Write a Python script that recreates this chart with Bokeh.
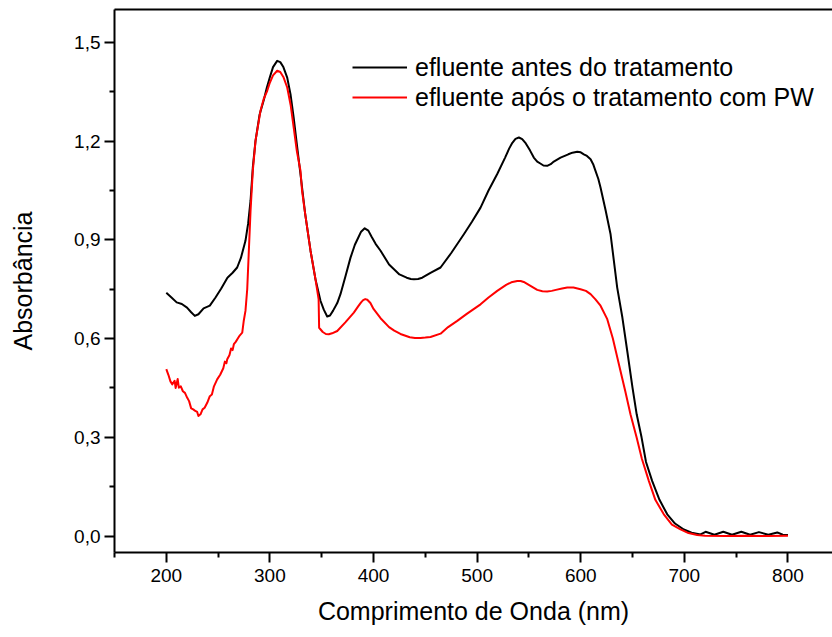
from bokeh.plotting import figure
from bokeh.models import (Range1d, LinearAxis, FixedTicker, CustomJSTickFormatter,
                          Legend, LegendItem)
from bokeh.embed import file_html
from bokeh.resources import INLINE

# ---------------- data ----------------
wl_antes = [200, 205, 210, 215, 220, 224, 227.5, 231, 236, 242, 247.5, 253, 259, 264,
            268.4, 272, 276.4, 279, 281.3, 283.5, 286.1, 290, 294.1, 297, 300, 303,
            307, 310, 313, 316.7, 320, 323, 326, 329.5, 334, 339.2, 344, 348.8, 352,
            355.3, 358, 361, 365, 368.1, 373, 377.8, 382, 385, 388, 391.5, 395, 398,
            402, 406.8, 415, 425, 432, 436, 439, 443, 447, 455, 464.7, 475, 487.2,
            495, 503.3, 511, 519.4, 527, 531, 534, 537, 540.3, 543.5, 547, 551,
            554.7, 558, 561, 564, 567.6, 571, 574, 580.5, 588, 592, 596.6, 600, 603,
            606, 609.5, 612, 614, 617, 619.1, 624, 628.8, 635.2, 640.2, 645, 650,
            654, 658.7, 663, 669, 676, 683.5, 691, 699.5, 707, 715.6, 720.5, 729,
            737.6, 746, 755, 763.5, 772, 781, 789.7, 795, 800]
abs_antes = [0.739, 0.725, 0.710, 0.705, 0.694, 0.680, 0.669, 0.674, 0.692, 0.700,
             0.725, 0.752, 0.785, 0.800, 0.816, 0.845, 0.897, 0.950, 1.019, 1.120,
             1.201, 1.280, 1.325, 1.362, 1.395, 1.425, 1.444, 1.440, 1.425, 1.393,
             1.340, 1.270, 1.190, 1.100, 0.980, 0.867, 0.780, 0.715, 0.688, 0.667,
             0.670, 0.685, 0.708, 0.735, 0.790, 0.846, 0.885, 0.905, 0.925, 0.935,
             0.928, 0.910, 0.888, 0.867, 0.825, 0.795, 0.785, 0.781, 0.780, 0.781,
             0.785, 0.800, 0.816, 0.860, 0.917, 0.955, 0.998, 1.050, 1.100, 1.150,
             1.178, 1.195, 1.207, 1.211, 1.206, 1.193, 1.172, 1.150, 1.138, 1.132,
             1.126, 1.125, 1.130, 1.138, 1.150, 1.160, 1.165, 1.168, 1.166, 1.160,
             1.155, 1.145, 1.130, 1.112, 1.085, 1.059, 0.990, 0.917, 0.755, 0.664,
             0.560, 0.450, 0.370, 0.300, 0.225, 0.167, 0.110, 0.066, 0.038, 0.020,
             0.010, 0.005, 0.013, 0.004, 0.013, 0.004, 0.013, 0.004, 0.012, 0.004,
             0.011, 0.004, 0.003]

wl_apos = [200, 202, 204, 205.7, 208, 209, 211, 212.1, 214, 216, 218, 220.2, 222, 224,
           226, 228, 229.8, 231, 233, 235, 237, 239.5, 242, 244, 246, 249.1, 252, 255,
           256.5, 258, 258.8, 261, 262.5, 264, 265.2, 267, 269, 271, 273.3, 274.8,
           276.4, 278.1, 281.3, 283.5, 286.1, 290.9, 294, 297.4, 300, 303, 307, 310,
           313, 316.7, 320, 323, 326, 329.5, 331, 334, 339.2, 344, 347, 347.5, 351,
           354, 356.9, 360, 365, 373, 381, 385, 388, 390, 392, 394, 397, 400, 406.8,
           415, 420, 426, 435, 440, 445.4, 450, 455, 464.7, 472, 480.8, 490, 503.3,
           511, 519.4, 528, 533, 538.7, 542, 545, 551.5, 558, 563, 567.6, 572, 576,
           582, 587, 593, 599.8, 605, 609.5, 614, 619.1, 625.6, 631, 637, 643, 648,
           653.9, 659, 665.8, 672, 680.2, 688, 696.3, 704, 712.4, 720, 740, 760, 780,
           800]
abs_apos = [0.507, 0.490, 0.470, 0.461, 0.472, 0.450, 0.477, 0.451, 0.455, 0.440,
            0.435, 0.420, 0.410, 0.388, 0.385, 0.380, 0.377, 0.365, 0.370, 0.385,
            0.390, 0.405, 0.425, 0.430, 0.455, 0.476, 0.490, 0.510, 0.530, 0.525,
            0.537, 0.550, 0.570, 0.565, 0.583, 0.590, 0.600, 0.610, 0.618, 0.655,
            0.684, 0.750, 0.988, 1.110, 1.201, 1.292, 1.328, 1.353, 1.378, 1.400,
            1.414, 1.410, 1.395, 1.363, 1.310, 1.240, 1.170, 1.110, 1.050, 0.980,
            0.867, 0.780, 0.720, 0.633, 0.620, 0.614, 0.613, 0.616, 0.623, 0.650,
            0.679, 0.697, 0.710, 0.717, 0.720, 0.718, 0.708, 0.690, 0.662, 0.635,
            0.624, 0.614, 0.604, 0.602, 0.602, 0.603, 0.605, 0.615, 0.635, 0.654,
            0.675, 0.704, 0.725, 0.745, 0.763, 0.771, 0.775, 0.775, 0.772, 0.760,
            0.748, 0.744, 0.743, 0.745, 0.748, 0.752, 0.755, 0.755, 0.750, 0.745,
            0.735, 0.720, 0.700, 0.659, 0.600, 0.520, 0.440, 0.370, 0.300, 0.235,
            0.167, 0.110, 0.066, 0.035, 0.020, 0.009, 0.003, 0.001, 0.000, 0.001,
            0.000, 0.001]

x_ticks = [200, 300, 400, 500, 600, 700, 800]
x_minor = [150, 250, 350, 450, 550, 650, 750, 850]
y_ticks = [0.0, 0.3, 0.6, 0.9, 1.2, 1.5]
y_minor = [-0.15, 0.15, 0.45, 0.75, 1.05, 1.35]

label_antes = "efluente antes do tratamento"
label_apos = "efluente após o tratamento com PW"
x_title = "Comprimento de Onda (nm)"
y_title = "Absorbância"

FONT = "Liberation Sans"

# ---------------- figure ----------------
p = figure(width=832, height=637, output_backend="svg", toolbar_location=None,
           x_range=Range1d(150, 843), y_range=Range1d(-0.05, 1.6),
           x_axis_location=None, y_axis_location=None,
           min_border_left=114, min_border_right=0, min_border_top=9,
           min_border_bottom=85)
p.outline_line_color = None
p.xgrid.visible = False
p.ygrid.visible = False
p.background_fill_color = "white"
p.border_fill_color = "white"

r_antes = p.line(wl_antes, abs_antes, line_color="black", line_width=2,
                 line_join="round")
r_apos = p.line(wl_apos, abs_apos, line_color="#ff0000", line_width=2,
                line_join="round")


def style_axis(ax):
    ax.axis_line_width = 2
    ax.axis_line_color = "black"
    ax.major_tick_line_width = 2
    ax.minor_tick_line_width = 2
    ax.major_tick_line_color = "black"
    ax.minor_tick_line_color = "black"
    ax.major_tick_out = 10
    ax.major_tick_in = 0
    ax.minor_tick_out = 5
    ax.minor_tick_in = 0
    ax.major_label_text_font = FONT
    ax.major_label_text_font_size = "19px"
    ax.major_label_text_color = "black"
    ax.axis_label_text_font = FONT
    ax.axis_label_text_font_size = "25px"
    ax.axis_label_text_font_style = "normal"
    ax.axis_label_text_color = "black"


xb = LinearAxis(ticker=FixedTicker(ticks=x_ticks, minor_ticks=x_minor),
                axis_label=x_title)
style_axis(xb)
xb.major_label_standoff = 6
xb.axis_label_standoff = 12
p.add_layout(xb, "below")

yl = LinearAxis(ticker=FixedTicker(ticks=y_ticks, minor_ticks=y_minor),
                axis_label=y_title,
                formatter=CustomJSTickFormatter(code="return tick.toFixed(1).replace('.', ',');"))
style_axis(yl)
yl.major_label_standoff = 4
yl.axis_label_standoff = 34
p.add_layout(yl, "left")

# top frame line (no ticks, no labels)
xt = LinearAxis(ticker=FixedTicker(ticks=[], minor_ticks=[]))
xt.axis_line_width = 2
xt.axis_line_color = "black"
xt.major_tick_line_color = None
xt.minor_tick_line_color = None
xt.major_label_standoff = 0
xt.major_tick_out = 0
xt.minor_tick_out = 0
p.add_layout(xt, "above")

legend = Legend(items=[LegendItem(label=label_antes, renderers=[r_antes]),
                       LegendItem(label=label_apos, renderers=[r_apos])],
                location=(238, 440), orientation="vertical")
legend.padding = 0
legend.margin = 0
legend.spacing = 0
legend.glyph_width = 55
legend.glyph_height = 30
legend.label_height = 30
legend.label_standoff = 8
legend.label_text_font = FONT
legend.label_text_font_size = "25px"
legend.label_text_color = "black"
legend.border_line_color = None
legend.background_fill_alpha = 0
p.add_layout(legend, "center")

open("out.html", "w").write(file_html(p, INLINE))
